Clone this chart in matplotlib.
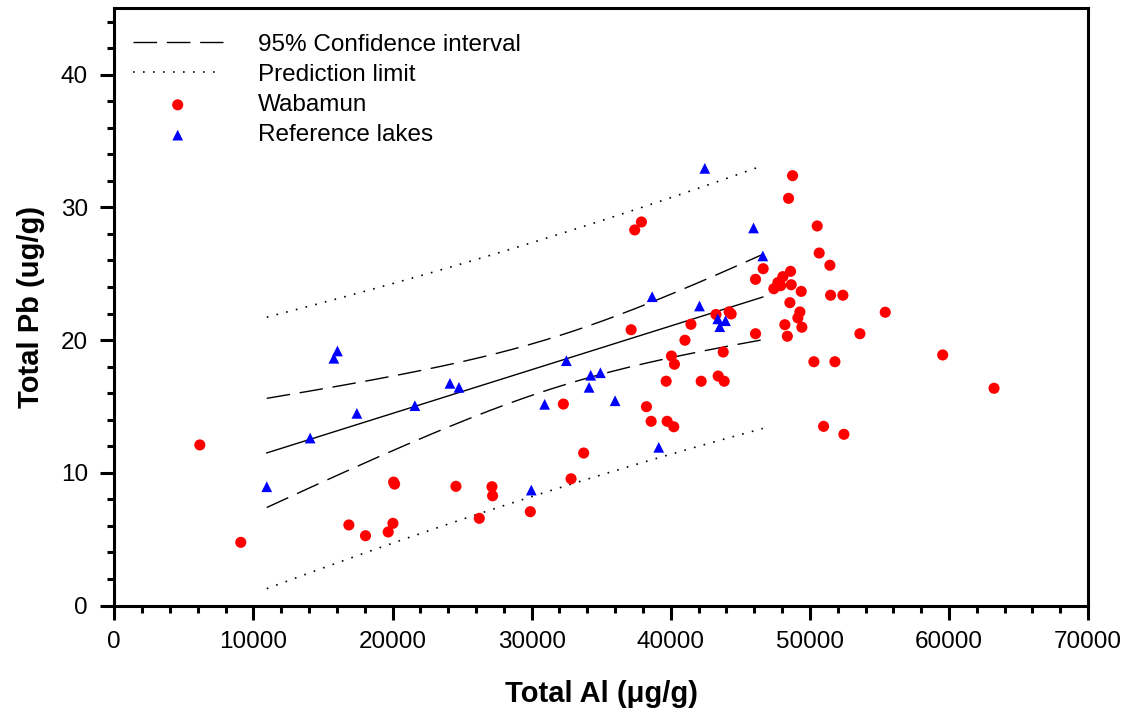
import numpy as np
import matplotlib
matplotlib.use("Agg")
import matplotlib.pyplot as plt
from matplotlib.ticker import MultipleLocator

plt.rcParams['font.family'] = ['Liberation Sans', 'DejaVu Sans']

# Wabamun lake sediments (Total Al, Total Pb)
wab_al = [6150, 9094, 16863, 18058, 19691, 20029, 20080, 20150, 24560, 27149,
          27194, 26237, 29906, 32281, 32834, 33741, 37151, 37410, 37892, 38252,
          38590, 39741, 40216, 39669, 40050, 40266, 41020, 41450, 42187, 43250,
          43410, 43842, 43770, 44197, 44341, 46094, 46094, 46643, 47410, 47698,
          47900, 48057, 48611, 48659, 49378, 48563, 49281, 49137, 48201, 49424,
          48381, 48755, 48468, 50526, 50669, 51439, 51489, 52374, 53597, 55417,
          50288, 51799, 59547, 63237, 50986, 52446]
wab_pb = [12.1, 4.76, 6.07, 5.26, 5.54, 6.19, 9.3, 9.15, 8.98, 8.95,
          8.27, 6.57, 7.07, 15.18, 9.55, 11.49, 20.78, 28.3, 28.9, 14.98,
          13.88, 13.88, 13.47, 16.9, 18.8, 18.18, 19.99, 21.19, 16.9, 21.93,
          17.29, 16.9, 19.1, 22.13, 21.97, 20.48, 24.58, 25.38, 23.87, 24.33,
          24.1, 24.78, 25.18, 24.17, 23.67, 22.82, 22.12, 21.67, 21.16, 20.97,
          20.29, 32.39, 30.68, 28.6, 26.56, 25.64, 23.38, 23.38, 20.48, 22.1,
          18.37, 18.37, 18.88, 16.37, 13.5, 12.9]

# Reference lakes
ref_al = [10962, 14079, 15784, 16043, 17438, 21607, 24129, 24777, 29976, 30935,
          32497, 34245, 34943, 34130, 36000, 39137, 38662, 42065, 42446, 43381,
          43935, 43525, 45950, 46619]
ref_pb = [8.95, 12.62, 18.63, 19.18, 14.48, 15.06, 16.74, 16.44, 8.70, 15.16,
          18.45, 17.35, 17.54, 16.44, 15.43, 11.92, 23.27, 22.57, 32.94, 21.60,
          21.46, 21.01, 28.45, 26.34]

T95 = 2.074  # t(0.975, df=22)

# Linear regression of reference lakes with confidence / prediction bands
x = np.array(ref_al, float)
y = np.array(ref_pb, float)
n = len(x)
xm = x.mean()
sxx = ((x - xm) ** 2).sum()
slope = ((x - xm) * (y - y.mean())).sum() / sxx
icpt = y.mean() - slope * xm
s = np.sqrt(((y - (icpt + slope * x)) ** 2).sum() / (n - 2))
xf = np.linspace(x.min(), x.max(), 200)
yf = icpt + slope * xf
ci = T95 * s * np.sqrt(1 / n + (xf - xm) ** 2 / sxx)
pi = T95 * s * np.sqrt(1 + 1 / n + (xf - xm) ** 2 / sxx)

fig = plt.figure(figsize=(11.29, 7.23), dpi=100)
ax = fig.add_axes([0.1012, 0.1625, 0.8626, 0.8260])

dash = (0, (17, 7))
dot = (0, (1, 5))
ax.plot(xf, yf, color='black', lw=1.0)
l_ci, = ax.plot(xf, yf + ci, color='black', lw=1.0, ls=dash)
ax.plot(xf, yf - ci, color='black', lw=1.0, ls=dash)
l_pi, = ax.plot(xf, yf + pi, color='black', lw=1.2, ls=dot)
ax.plot(xf, yf - pi, color='black', lw=1.2, ls=dot)

h_w = ax.scatter(wab_al, wab_pb, s=64, marker='o', color='#ff0000', edgecolors='none', zorder=3)
h_r = ax.scatter(ref_al, ref_pb, s=60, marker='^', color='#0000ff', edgecolors='none', zorder=3)

ax.set_xlim(0, 70000)
ax.set_ylim(0, 45)
ax.xaxis.set_major_locator(MultipleLocator(10000))
ax.xaxis.set_minor_locator(MultipleLocator(2000))
ax.yaxis.set_major_locator(MultipleLocator(10))
ax.yaxis.set_minor_locator(MultipleLocator(2))
ax.set_yticks([0, 10, 20, 30, 40])

for sp in ax.spines.values():
    sp.set_linewidth(2.2)
ax.tick_params(which='major', direction='out', length=10, width=2.2,
               labelsize=17.5, pad=9, top=False, right=False)
ax.tick_params(which='minor', direction='out', length=5, width=2.2,
               top=False, right=False)
ax.tick_params(axis='x', which='major', pad=8)

ax.set_xlabel('Total Al (μg/g)', fontsize=21, fontweight='bold', labelpad=20)
ax.set_ylabel('Total Pb (ug/g)', fontsize=21, fontweight='bold', labelpad=11)

ax.legend([l_ci, l_pi, h_w, h_r],
          ['95% Confidence interval', 'Prediction limit', 'Wabamun', 'Reference lakes'],
          loc='upper left', bbox_to_anchor=(0.004, 0.982), frameon=False,
          fontsize=17.5, handlelength=3.7, handletextpad=1.45, labelspacing=0.34,
          borderaxespad=0.2)

fig.savefig('out.png', dpi=100)
